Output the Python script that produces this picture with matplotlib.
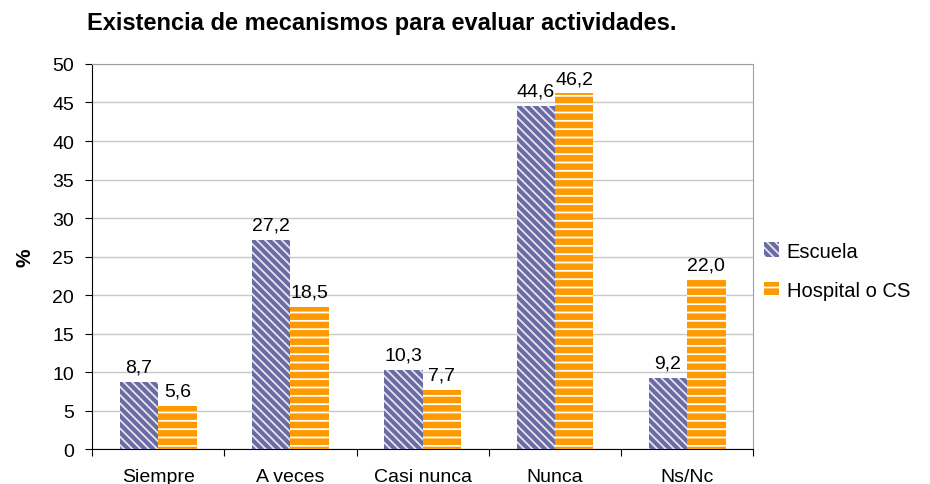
import numpy as np
import matplotlib.pyplot as plt
plt.switch_backend("agg")

categories = ["Siempre", "A veces", "Casi nunca", "Nunca", "Ns/Nc"]
escuela = [8.7, 27.2, 10.3, 44.6, 9.2]
hospital = [5.6, 18.5, 7.7, 46.2, 22.0]

plt.rcParams["font.family"] = ["Liberation Sans", "DejaVu Sans"]
plt.rcParams["hatch.linewidth"] = 1.3

fig = plt.figure(figsize=(9.3, 4.85), dpi=100)
ax = fig.add_axes([0.099, 0.072, 0.711, 0.794])

x = np.arange(len(categories))
w = 0.29
b1 = ax.bar(x - w/2, escuela, w, color="#6b6ba3", edgecolor="#e4e4f0",
            hatch="\\\\\\\\", linewidth=0, label="Escuela", zorder=3)
b2 = ax.bar(x + w/2, hospital, w, color="#ff9900", edgecolor="white",
            hatch="--", linewidth=0, label="Hospital o CS", zorder=3)

for bars, vals in [(b1, escuela), (b2, hospital)]:
    for rect, v in zip(bars, vals):
        ax.annotate(f"{v:.1f}".replace(".", ","),
                    (rect.get_x() + rect.get_width()/2, v),
                    xytext=(0, 4.5), textcoords="offset points",
                    ha="center", va="bottom", fontsize=14)

ax.set_xlim(-0.5, 4.5)
ax.set_ylim(0, 50)
ax.set_yticks(np.arange(0, 51, 5))
ax.yaxis.grid(True, color="#c8c8c8", linewidth=1, zorder=0)
ax.set_axisbelow(True)

ax.set_xticks(np.arange(-0.5, 5, 1))
ax.set_xticklabels([])
ax.set_xticks(x, minor=True)
ax.set_xticklabels(categories, minor=True, fontsize=14)
ax.tick_params(axis="x", which="minor", length=0, pad=13.5)
ax.tick_params(axis="x", which="major", length=5, direction="out")
ax.tick_params(axis="y", labelsize=14, length=5, direction="out", pad=8)

for s in ["top", "right"]:
    ax.spines[s].set_color("#a0a0a0")
ax.spines["left"].set_color("black")
ax.spines["bottom"].set_color("black")

ax.set_ylabel("%", fontsize=15, fontweight="bold", labelpad=13)

fig.text(0.094, 0.952, "Existencia de mecanismos para evaluar actividades.",
         fontsize=17, fontweight="bold", va="center", ha="left")

fig.legend(handles=[b1, b2], loc="center left", bbox_to_anchor=(0.822, 0.44),
           frameon=False, fontsize=14.5, handlelength=0.7, handleheight=0.7,
           handletextpad=0.4, labelspacing=1.0, borderpad=0, borderaxespad=0)

fig.savefig("out.png", dpi=100)
